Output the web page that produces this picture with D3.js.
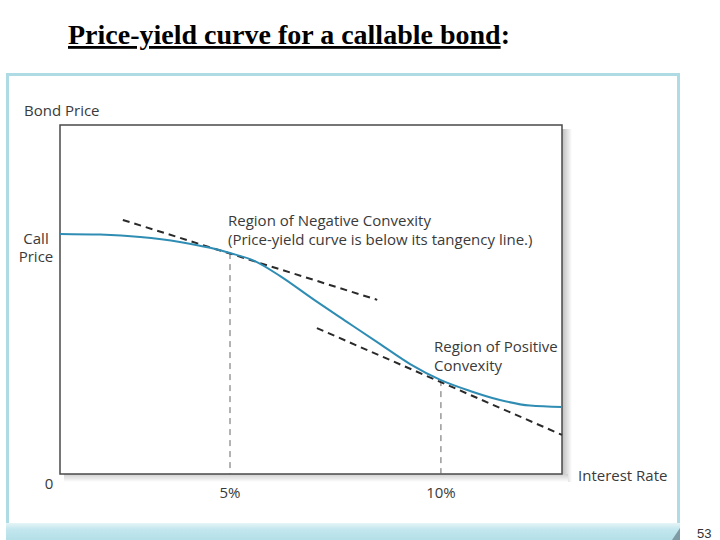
<!DOCTYPE html>
<html><head><meta charset="utf-8">
<script src="https://cdn.jsdelivr.net/npm/d3@7"></script>
<style>
html,body{margin:0;padding:0;background:#fff;}
svg{display:block;}
</style></head>
<body>
<script>
// ---- data ----
const curveRates  = [0.97, 1.92, 2.87, 3.81, 4.53, 5.0, 5.59, 6.19, 6.97, 7.77, 8.56, 9.27, 10.0, 10.69, 11.40, 12.11, 12.87];
const curvePrices = [68.8, 68.6, 67.9, 66.5, 64.8, 63.3, 61.0, 56.7, 50.1, 43.6, 37.2, 31.5, 26.9, 23.8, 21.2, 19.6, 19.2];
const upperTangentRates  = [2.46, 8.49];
const upperTangentPrices = [72.8, 49.9];
const lowerTangentRates  = [7.06, 12.87];
const lowerTangentPrices = [41.8, 11.2];
const markRates = [5, 10];
const markLabels = ["5%", "10%"];
const rateDomain = [0.97, 12.87];
const priceDomain = [0, 100];

const W = 720, H = 540;
const svg = d3.select("body").append("svg").attr("width", W).attr("height", H);
const defs = svg.append("defs");
const gr = defs.append("linearGradient").attr("id","shR").attr("x1","0").attr("x2","1").attr("y1","0").attr("y2","0");
gr.append("stop").attr("offset","0").attr("stop-color","#bdbdbd");
gr.append("stop").attr("offset","1").attr("stop-color","#ffffff");
const gb = defs.append("linearGradient").attr("id","shB").attr("x1","0").attr("x2","0").attr("y1","0").attr("y2","1");
gb.append("stop").attr("offset","0").attr("stop-color","#cfcfcf");
gb.append("stop").attr("offset","1").attr("stop-color","#ffffff");
const band = defs.append("linearGradient").attr("id","band").attr("x1","0").attr("x2","0").attr("y1","0").attr("y2","1");
band.append("stop").attr("offset","0").attr("stop-color","#e6f5f8");
band.append("stop").attr("offset","0.35").attr("stop-color","#c4e7ee");
band.append("stop").attr("offset","1").attr("stop-color","#b3dfe8");

// title
const title = svg.append("text").attr("x", 68).attr("y", 44)
  .attr("font-family","'Liberation Serif','Times New Roman',serif")
  .attr("font-weight","bold").attr("font-size", 28).attr("fill","#000");
title.append("tspan").attr("text-decoration","underline").text("Price-yield curve for a callable bond");
title.append("tspan").text(":");

// outer light-blue frame
const frame = svg.append("g");
frame.append("rect").attr("x",7.5).attr("y",74.5).attr("width",671).attr("height",460)
  .attr("fill","none").attr("stroke","#aedbe4").attr("stroke-width",3);
frame.append("rect").attr("x",6).attr("y",523).attr("width",674).attr("height",17).attr("fill","url(#band)");
frame.append("path").attr("d","M672,540 L680,528 L680,540 Z").attr("fill","#7d9aa5");

// plot area
const L = 60, R = 562, T = 125, B = 474;
const x = d3.scaleLinear().domain(rateDomain).range([L, R]);
const y = d3.scaleLinear().domain(priceDomain).range([B, T]);

// shadows
svg.append("rect").attr("x", R).attr("y", T+4).attr("width", 10).attr("height", B-T+4).attr("fill","url(#shR)");
svg.append("rect").attr("x", L+4).attr("y", B).attr("width", R-L+2).attr("height", 8).attr("fill","url(#shB)");
svg.append("rect").attr("x", L).attr("y", T).attr("width", R-L).attr("height", B-T)
  .attr("fill","#fff").attr("stroke","#4a4a4a").attr("stroke-width",1.5);

// vertical dashed markers
const curveAt = d3.scaleLinear().domain(curveRates).range(curvePrices);
svg.selectAll("line.mark").data(markRates).join("line").attr("class","mark")
  .attr("x1", d=>x(d)).attr("x2", d=>x(d))
  .attr("y1", d=>y(curveAt(d))).attr("y2", B)
  .attr("stroke","#666").attr("stroke-width",1).attr("stroke-dasharray","6,5");

// tangents
const line = d3.line().x(d=>x(d[0])).y(d=>y(d[1]));
[[upperTangentRates, upperTangentPrices],[lowerTangentRates, lowerTangentPrices]].forEach(([rs, ps])=>{
  svg.append("path").attr("d", line(rs.map((r,i)=>[r, ps[i]])))
    .attr("fill","none").attr("stroke","#2a2a2a").attr("stroke-width",2).attr("stroke-dasharray","7,5");
});

// curve
svg.append("path").attr("d", d3.line().curve(d3.curveMonotoneX).x(d=>x(d[0])).y(d=>y(d[1]))(curveRates.map((r,i)=>[r, curvePrices[i]])))
  .attr("fill","none").attr("stroke","#2f8db4").attr("stroke-width",2);

// labels
const sans = "'Open Sans','Noto Sans',sans-serif";
const lab = (lines, xx, yy, anchor="start", size=15, lh=19) => {
  const t = svg.append("text").attr("x",xx).attr("y",yy)
    .attr("text-anchor",anchor).attr("font-family",sans).attr("font-size",size).attr("fill","#3a3a3a");
  [].concat(lines).forEach((s,i)=>t.append("tspan").attr("x",xx).attr("dy", i?lh:0).text(s));
  return t;
};
lab("Bond Price", 24, 116);
lab(["Call", "Price"], 36, 244, "middle", 15, 18);
lab("0", 49, 489, "middle");
markRates.forEach((r,i)=>lab(markLabels[i], x(r), 498, "middle"));
lab("Interest Rate", 578, 481);
lab(["Region of Negative Convexity", "(Price-yield curve is below its tangency line.)"], 228, 226);
lab(["Region of Positive", "Convexity"], 434, 352);

svg.append("text").attr("x",697).attr("y",538).attr("font-family","'Liberation Sans',Arial,sans-serif")
  .attr("font-size",13).attr("fill","#333").text("53");
</script>
</body></html>
